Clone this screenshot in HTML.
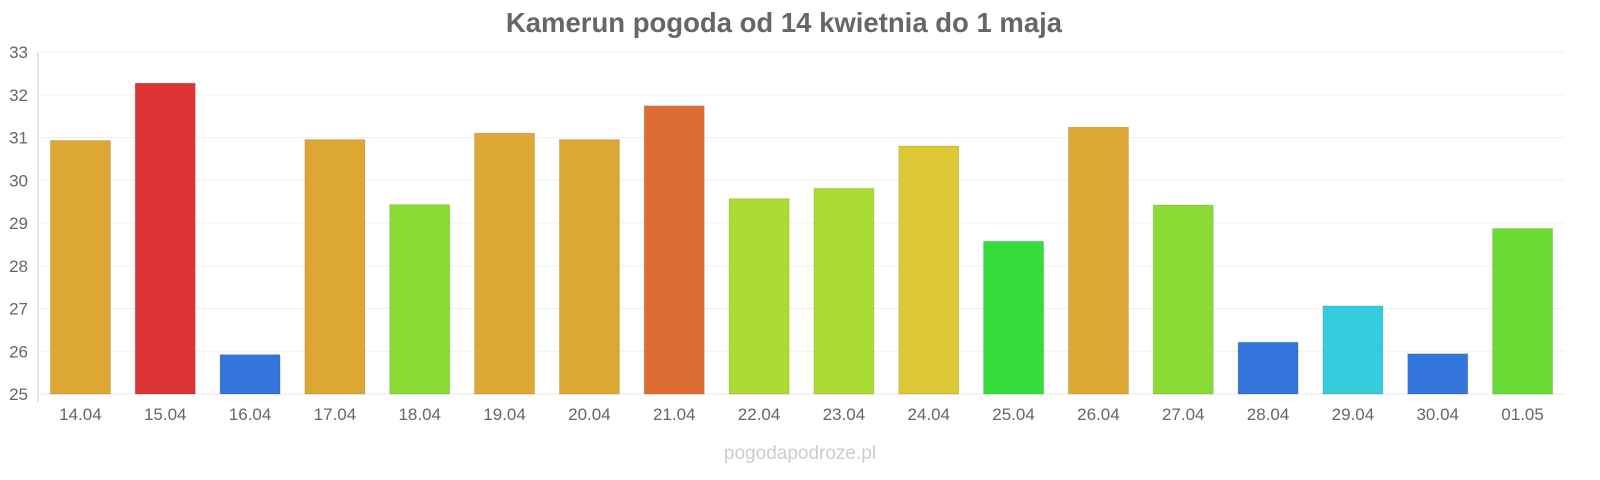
<!DOCTYPE html>
<html><head><meta charset="utf-8"><style>
html,body{margin:0;padding:0;background:#fff;}
svg{display:block;font-family:"Liberation Sans",sans-serif;}
</style></head><body>
<svg id="c" width="1600" height="480" xmlns="http://www.w3.org/2000/svg"></svg>
<script>
const s=document.getElementById('c');
let h='<text x="784" y="32" text-anchor="middle" font-size="27.5" font-weight="bold" fill="#666">Kamerun pogoda od 14 kwietnia do 1 maja</text>';
const y0=394,pu=42.75,L=38,R=1565;
for(let v=25;v<=33;v++){const y=y0-(v-25)*pu;
h+=`<line x1="${L}" x2="${R}" y1="${y}" y2="${y}" stroke="#f0f0f0"/>`;
h+=`<text x="28" y="${y+6}" text-anchor="end" font-size="17" fill="#666">${v}</text>`;}
h+=`<line x1="${L}" x2="${L}" y1="52" y2="402" stroke="#ccc"/>`;
h+=`<line x1="${L}" x2="${R}" y1="${y0}" y2="${y0}" stroke="#e8e8e8"/>`;
const d=[[30.93,'#dca833','14.04'],[32.27,'#dc3434','15.04'],[25.92,'#3476dc','16.04'],[30.95,'#dca833','17.04'],[29.43,'#8adc34','18.04'],[31.1,'#dca833','19.04'],[30.95,'#dca833','20.04'],[31.74,'#dc6e34','21.04'],[29.57,'#acdc34','22.04'],[29.81,'#acdc34','23.04'],[30.8,'#dcc834','24.04'],[28.57,'#34dc3a','25.04'],[31.24,'#dca833','26.04'],[29.42,'#8adc34','27.04'],[26.21,'#3476dc','28.04'],[27.06,'#34ccdc','29.04'],[25.94,'#3476dc','30.04'],[28.87,'#6adc34','01.05']];
const sw=(R-L)/18;
d.forEach((b,i)=>{const cx=L+sw*(i+0.5),y=y0-(b[0]-25)*pu;
h+=`<rect x="${cx-30}" y="${y}" width="60" height="${y0-y}" fill="${b[1]}" stroke="rgba(0,0,0,0.12)"/>`;
h+=`<text x="${cx}" y="420" text-anchor="middle" font-size="17" fill="#666">${b[2]}</text>`;});
h+='<text x="800" y="459" text-anchor="middle" font-size="19" fill="#ccc">pogodapodroze.pl</text>';
s.innerHTML=h;
</script>
</body></html>
